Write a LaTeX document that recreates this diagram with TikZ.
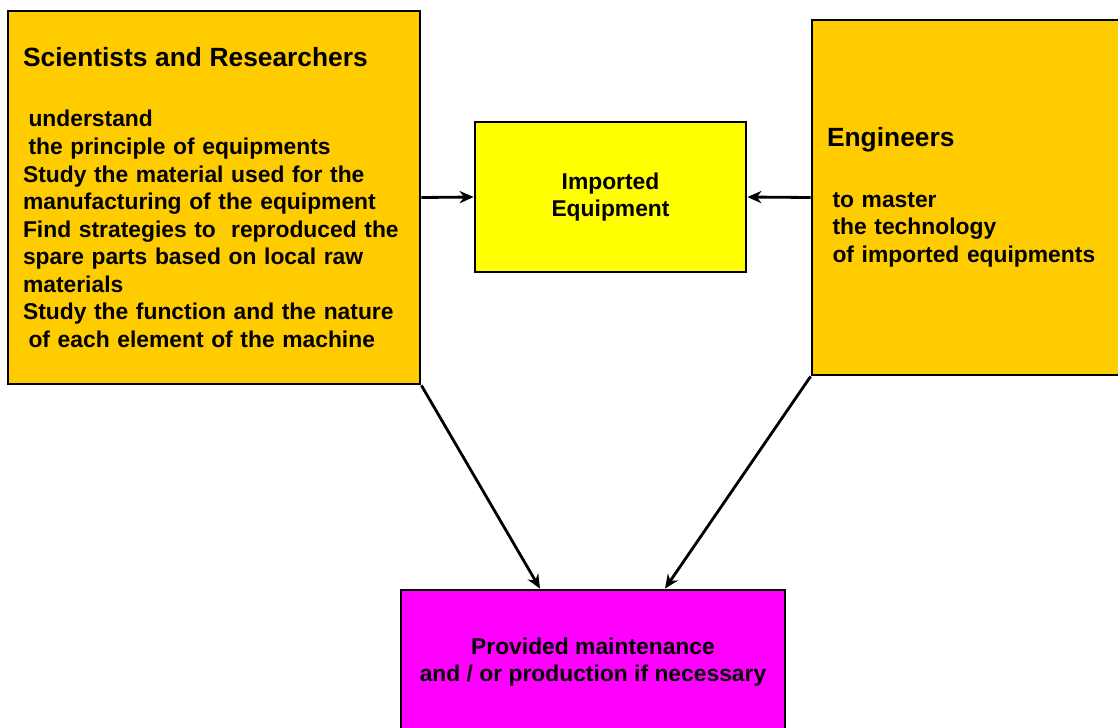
\documentclass[tikz,border=0pt]{standalone}
\usepackage{fontspec}
\setmainfont{Liberation Sans}
\usetikzlibrary{arrows.meta, positioning, calc}
\definecolor{goldBox}{HTML}{FFCC00}
\definecolor{brightYellow}{HTML}{FFFF00}
\definecolor{hotPink}{HTML}{FF00FF}
\newcommand{\BoxHead}[1]{{\fontsize{15}{18}\selectfont #1}\\[0.66cm]}
\newcommand{\Indent}{\hspace*{0.11cm}}

\begin{document}
\begin{tikzpicture}[x=0.02cm, y=-0.02cm,
        box/.style={draw=black, line width=1.6pt, inner sep=0pt, font=\bfseries\fontsize{13}{15.7}\selectfont},
        link/.style={-{Stealth[length=8pt, width=7pt]}, line width=1.6pt}]
        \useasboundingbox (0,0) rectangle (1118,727);
        \clip (0,0) rectangle (1118,727);

        % Scientists box
        \node[box, fill=goldBox, minimum width=8.24cm, minimum height=7.46cm, text width=7.64cm, align=left] (sci) at (214,197.5) {%
            \BoxHead{Scientists and Researchers}
            \Indent understand\\
            \Indent the principle of equipments\\
            Study the material used for the\\
            manufacturing of the equipment\\
            Find strategies to\ \ reproduced the\\
            spare parts based on local raw\\
            materials\\
            Study the function and the nature\\
            \Indent of each element of the machine};

        % Engineers box
        \node[box, fill=goldBox, minimum width=6.36cm, minimum height=7.1cm, text width=5.76cm, align=left] (eng) at (971,197.5) {%
            \BoxHead{Engineers}
            \Indent to master\\
            \Indent the technology\\
            \Indent of imported equipments};

        % Middle box
        \node[box, fill=brightYellow, minimum width=5.42cm, minimum height=3cm, align=center] (equip) at (610.5,197) {Imported\\Equipment};

        % Result box
        \node[box, fill=hotPink, minimum width=7.68cm, minimum height=2.88cm, align=center] (prod) at (593,662) {Provided maintenance\\and / or production if necessary};

        % Arrows
        \draw[link] (sci.east) -- (equip.west);
        \draw[link] (eng.west) -- (equip.east);
        \draw[link] (sci.south east) -- ([xshift=-1.06cm]prod.north);
        \draw[link] (eng.south west) -- ([xshift=1.44cm]prod.north);
\end{tikzpicture}
\end{document}
